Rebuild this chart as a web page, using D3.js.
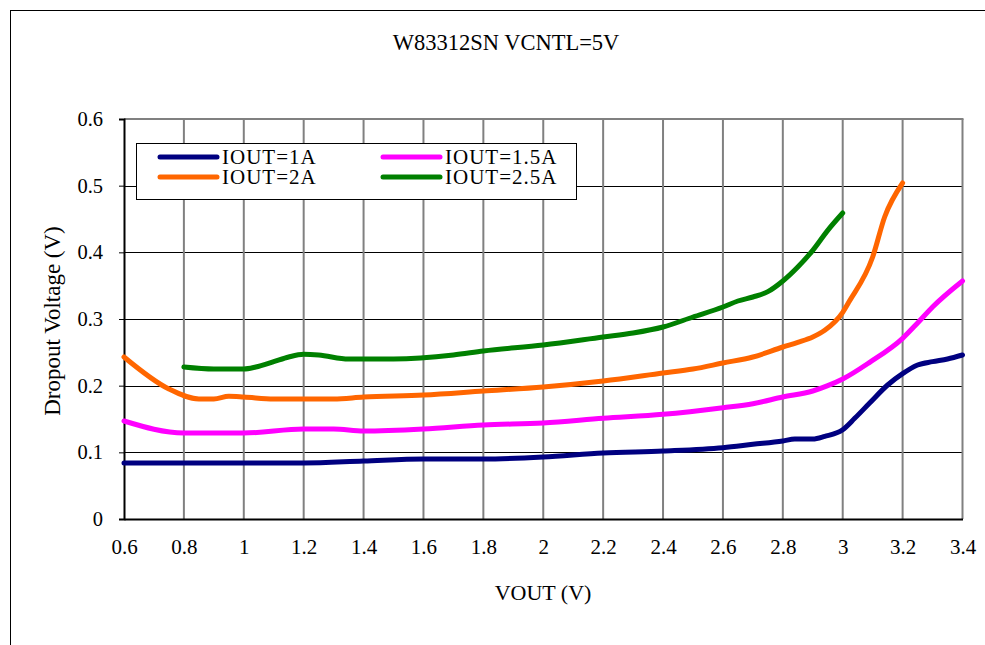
<!DOCTYPE html>
<html><head><meta charset="utf-8">
<script src="https://cdn.jsdelivr.net/npm/d3@7"></script>
<style>body{margin:0;background:#fff}svg{display:block}svg text{font-family:"Liberation Serif","Times New Roman",Times,serif !important;fill:#000}</style>
</head><body><svg id="c" width="985" height="645"></svg>
<script>
const title = "W83312SN VCNTL=5V";
const xTicks = [0.6,0.8,1,1.2,1.4,1.6,1.8,2,2.2,2.4,2.6,2.8,3,3.2,3.4];
const yTicks = [0,0.1,0.2,0.3,0.4,0.5,0.6];
const seriesNames = ["IOUT=1A","IOUT=1.5A","IOUT=2A","IOUT=2.5A"];
const seriesColors = ["#000080","#ff00ff","#ff6600","#008000"];

const vout1A = [0.6,0.8,1.0,1.2,1.4,1.6,1.8,2.0,2.2,2.4,2.6,2.7,2.8,2.84,2.9,2.94,3.0,3.04,3.09,3.15,3.2,3.25,3.3,3.35,3.4];
const vdo1A  = [0.084,0.084,0.084,0.084,0.087,0.09,0.09,0.093,0.099,0.102,0.107,0.112,0.117,0.12,0.12,0.124,0.134,0.151,0.174,0.201,0.218,0.231,0.236,0.24,0.246];

const vout15A = [0.6,0.8,1.0,1.2,1.3,1.4,1.6,1.8,2.0,2.2,2.4,2.6,2.7,2.8,2.9,2.95,3.0,3.09,3.2,3.25,3.3,3.4];
const vdo15A  = [0.147,0.129,0.129,0.135,0.135,0.132,0.135,0.141,0.144,0.151,0.157,0.167,0.173,0.183,0.192,0.2,0.21,0.235,0.271,0.294,0.318,0.357];

const vout2A = [0.6,0.75,0.85,0.9,0.95,1.0,1.1,1.3,1.4,1.6,1.8,2.0,2.2,2.4,2.5,2.6,2.7,2.8,2.85,2.9,2.94,3.0,3.02,3.1,3.14,3.2];
const vdo2A  = [0.243,0.195,0.18,0.18,0.184,0.183,0.18,0.18,0.183,0.186,0.192,0.198,0.207,0.219,0.225,0.234,0.243,0.258,0.265,0.273,0.283,0.31,0.325,0.393,0.453,0.504];

const vout25A = [0.8,0.9,1.0,1.04,1.1,1.15,1.2,1.25,1.35,1.5,1.7,1.8,2.0,2.2,2.3,2.4,2.5,2.6,2.65,2.7,2.75,2.8,2.85,2.9,2.95,3.0];
const vdo25A  = [0.228,0.225,0.225,0.228,0.236,0.243,0.247,0.246,0.24,0.24,0.246,0.252,0.261,0.273,0.279,0.288,0.303,0.318,0.327,0.333,0.341,0.357,0.378,0.403,0.433,0.459];

const seriesX = [vout1A, vout15A, vout2A, vout25A];
const seriesY = [vdo1A, vdo15A, vdo2A, vdo25A];

const svg = d3.select("#c");
const L=124, R=962.5, T=119, B=519;
const x = d3.scaleLinear().domain([0.6,3.4]).range([L,R]);
const y = d3.scaleLinear().domain([0,0.6]).range([B,T]);

svg.append("rect").attr("x",10.5).attr("y",10.5).attr("width",1000).attr("height",1000)
  .attr("fill","none").attr("stroke","#000").attr("stroke-width",1);

svg.append("text").attr("x",506).attr("y",50).attr("text-anchor","middle")
  .attr("font-size",22.5).text(title);

svg.append("g").selectAll("line").data(yTicks.filter(d=>d>0 && d<0.6)).join("line")
  .attr("x1",L).attr("x2",R).attr("y1",d=>Math.round(y(d))+0.5).attr("y2",d=>Math.round(y(d))+0.5)
  .attr("stroke","#000").attr("stroke-width",1);
svg.append("g").selectAll("line").data(xTicks.filter(d=>d>0.6)).join("line")
  .attr("x1",d=>x(d)).attr("x2",d=>x(d)).attr("y1",T).attr("y2",B)
  .attr("stroke","#808080").attr("stroke-width",2);
svg.append("line").attr("x1",L).attr("x2",R+1).attr("y1",T).attr("y2",T).attr("stroke","#808080").attr("stroke-width",2);

const yAxis = d3.axisLeft(y).tickValues(yTicks).tickFormat(d3.format("")).tickSize(5).tickPadding(16);
const gy = svg.append("g").attr("transform",`translate(${L},0)`).call(yAxis);
gy.attr("font-family",null);
gy.select(".domain").attr("stroke","#000").attr("stroke-width",2);
gy.selectAll("text").attr("font-size",20.5);

const xAxis = d3.axisBottom(x).tickValues(xTicks).tickFormat(d3.format("")).tickSize(0).tickPadding(20);
const gx = svg.append("g").attr("transform",`translate(0,${B})`).call(xAxis);
gx.attr("font-family",null);
gx.select(".domain").attr("stroke","#000").attr("stroke-width",2);
gx.selectAll("text").attr("font-size",21);

svg.append("text").attr("transform",`translate(60,321) rotate(-90)`).attr("text-anchor","middle")
  .attr("font-size",23).text("Dropout Voltage (V)");
svg.append("text").attr("x",543).attr("y",600).attr("text-anchor","middle")
  .attr("font-size",22).text("VOUT (V)");

const line = d3.line().x(d=>x(d[0])).y(d=>y(d[1])).curve(d3.curveMonotoneX);
seriesX.forEach((xs,i)=>{
  const pts = xs.map((v,j)=>[v, seriesY[i][j]]);
  svg.append("path").datum(pts).attr("d",line).attr("fill","none")
    .attr("stroke",seriesColors[i]).attr("stroke-width",5).attr("stroke-linecap","round").attr("stroke-linejoin","round");
});

const lg = svg.append("g");
lg.append("rect").attr("x",136.5).attr("y",143.5).attr("width",440).attr("height",56)
  .attr("fill","#fff").attr("stroke","#000").attr("stroke-width",1);
const lpos = [[160,157],[383,157],[160,177],[383,177]];
seriesNames.forEach((n,i)=>{
  const [lx,ly] = lpos[i];
  lg.append("line").attr("x1",lx).attr("x2",lx+57).attr("y1",ly).attr("y2",ly)
    .attr("stroke",seriesColors[i]).attr("stroke-width",5).attr("stroke-linecap","round");
  lg.append("text").attr("x",lx+62).attr("y",ly+7).attr("font-size",21).attr("letter-spacing",1).text(n);
});
</script></body></html>
